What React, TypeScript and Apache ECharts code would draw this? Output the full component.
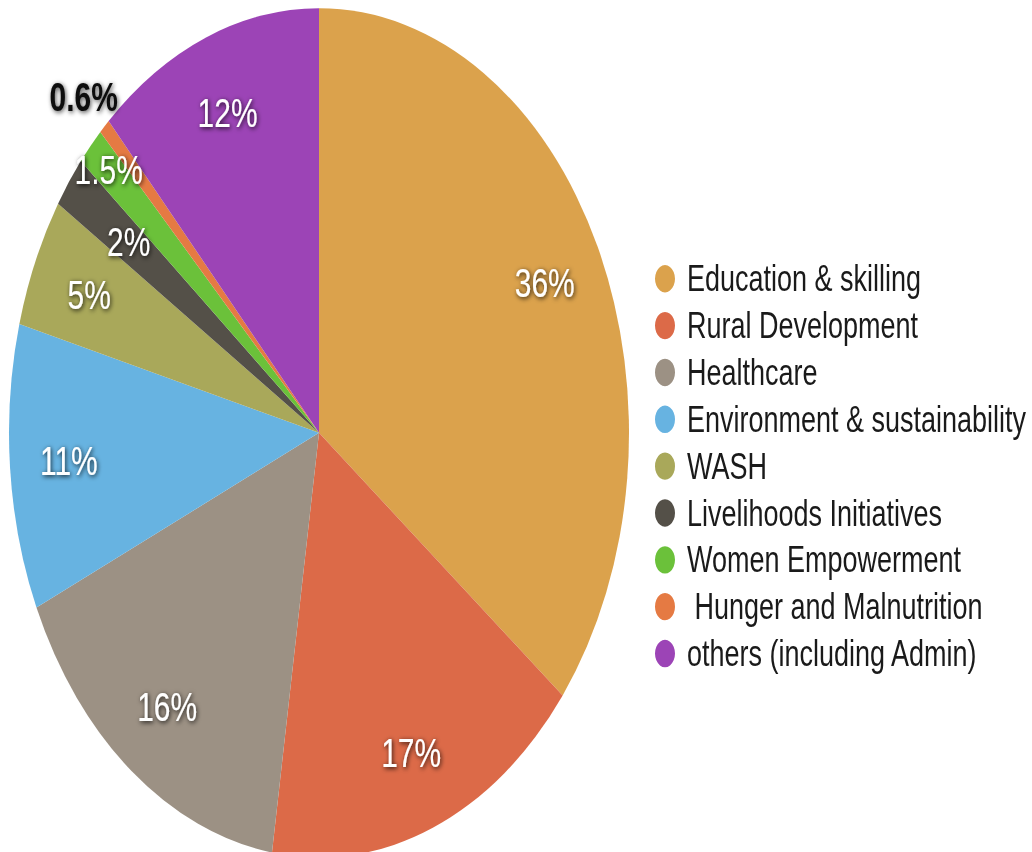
import React, { useEffect, useRef } from "react";
import * as echarts from "echarts";

const categories = [
  "Education & skilling",
  "Rural Development",
  "Healthcare",
  "Environment & sustainability",
  "WASH",
  "Livelihoods Initiatives",
  "Women Empowerment",
  " Hunger and Malnutrition",
  "others (including Admin)",
];
const values = [36, 17, 16, 11, 5, 2, 1.5, 0.6, 12];
const colors = [
  "#DBA24C",
  "#DC6A48",
  "#9C9184",
  "#67B3E1",
  "#A9A85A",
  "#545048",
  "#6BC13A",
  "#E57A43",
  "#9C44B6",
];
// distance of each percentage label from the pie centre (layout, px)
const labelRadius = [248, 248, 248, 248, 248, 233, 282, 337, 248];

const W = 1032;
const H = 622;
const SCALE_Y = 852 / H;
const CENTER = [319, 316];
const R = 310;

export default function App() {
  const ref = useRef<HTMLDivElement>(null);
  useEffect(() => {
    if (!ref.current) return;
    const chart = echarts.init(ref.current, undefined, { renderer: "svg" });
    const font = "'Liberation Sans', Arial, Helvetica, sans-serif";
    const labelBase = {
      color: "#ffffff",
      fontSize: 30,
      fontFamily: font,
      textShadowColor: "rgba(0,0,0,0.85)",
      textShadowBlur: 4,
      textShadowOffsetX: 1,
      textShadowOffsetY: 1,
      formatter: "{c}%",
    };
    const radii = Array.from(new Set(labelRadius));
    const labelSeries = radii.map((rm) => ({
      type: "pie",
      center: CENTER,
      radius: [rm - 40, rm + 40],
      startAngle: 90,
      clockwise: true,
      silent: true,
      avoidLabelOverlap: false,
      labelLayout: { hideOverlap: false },
      emphasis: { disabled: true },
      itemStyle: { color: "rgba(0,0,0,0)" },
      label: { show: true, position: "inside", ...labelBase },
      labelLine: { show: false },
      data: categories.map((n, i) => {
        const item: any = {
          name: n,
          value: values[i],
          itemStyle: { color: "rgba(0,0,0,0)" },
          label: { show: labelRadius[i] === rm },
        };
        if (i === 7) {
          item.label = {
            show: labelRadius[i] === rm,
            color: "#111111",
            textShadowColor: "rgba(0,0,0,0.7)",
            textShadowBlur: 4,
            textShadowOffsetX: 1,
            textShadowOffsetY: 1,
            fontWeight: "bold",
          };
        }
        return item;
      }),
    }));
    chart.setOption({
      animation: false,
      legend: {
        orient: "vertical",
        left: 650,
        top: 185,
        icon: "circle",
        itemWidth: 20,
        itemHeight: 20,
        itemGap: 7.2,
        selectedMode: false,
        textStyle: {
          fontSize: 27,
          fontFamily: font,
          color: "#1a1a1a",
          padding: [0, 0, 0, 7],
        },
        data: categories.map((n, i) => ({ name: n, itemStyle: { color: colors[i] } })),
      },
      series: [
        {
          type: "pie",
          center: CENTER,
          radius: [0, R],
          startAngle: 90,
          clockwise: true,
          silent: true,
          label: { show: false },
          labelLine: { show: false },
          emphasis: { disabled: true },
          data: categories.map((n, i) => ({
            name: n,
            value: values[i],
            itemStyle: { color: colors[i] },
          })),
        },
        ...labelSeries,
      ],
    });
    return () => chart.dispose();
  }, []);
  return (
    <div
      style={{
        position: "fixed",
        left: 0,
        top: 0,
        width: W,
        height: H * SCALE_Y,
        overflow: "hidden",
        background: "#ffffff",
      }}
    >
      <div
        ref={ref}
        style={{
          width: W,
          height: H,
          transform: `scaleY(${SCALE_Y})`,
          transformOrigin: "0 0",
        }}
      />
    </div>
  );
}
